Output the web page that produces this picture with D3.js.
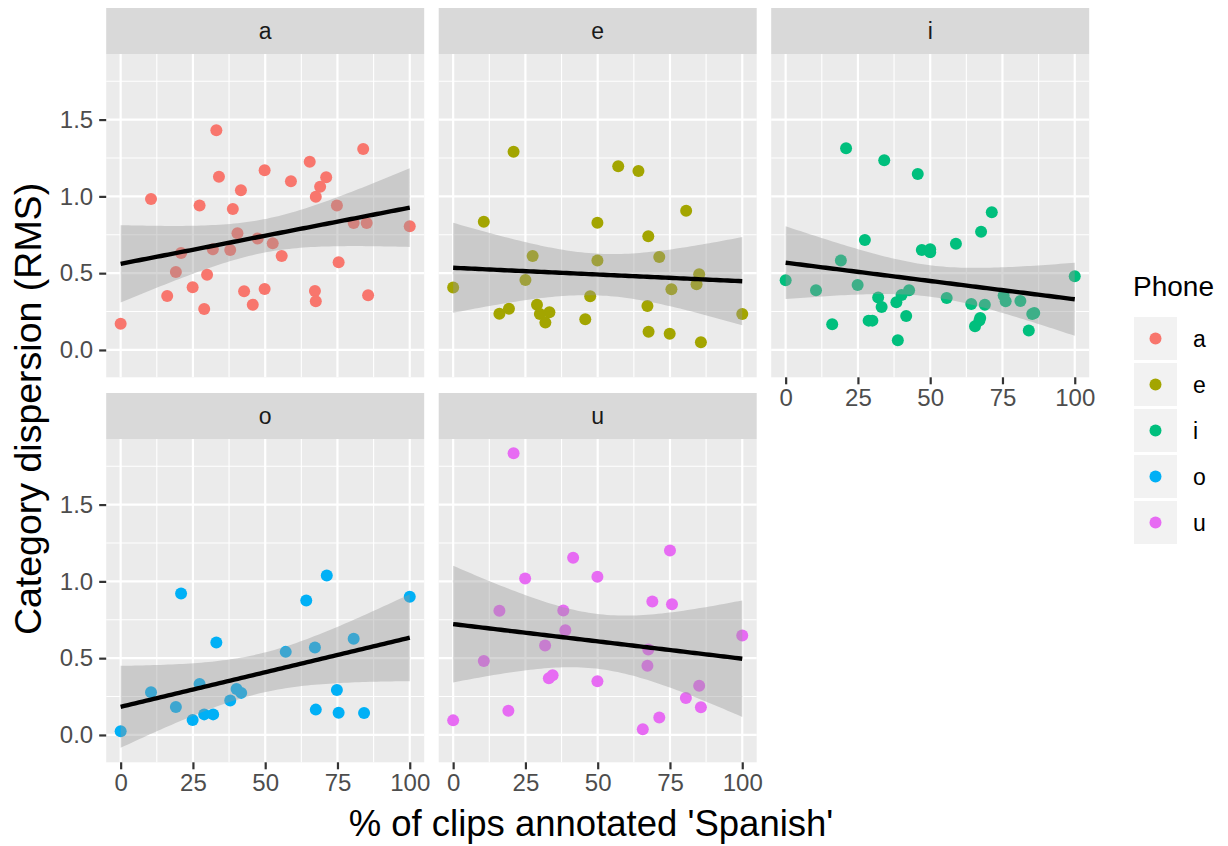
<!DOCTYPE html>
<html>
<head>
<meta charset="utf-8">
<script src="https://cdn.jsdelivr.net/npm/d3@7"></script>
<style>
body { margin: 0; background: #fff; }
text { font-family: "Liberation Sans", Arial, Helvetica, sans-serif; }
</style>
</head>
<body>
<svg id="chart" width="1228" height="846"></svg>
<script>
//Phones (one facet each) and their colours
const phones = ["a", "e", "i", "o", "u"];
const phoneColors = ["#F8766D", "#A3A500", "#00BF7D", "#00B0F6", "#E76BF3"];

//% of clips annotated 'Spanish' and category dispersion, per phone
const pctA = [33.1, 83.9, 65.4, 49.8, 34.0, 71.1, 58.9, 69.0, 41.6, 67.5, 10.5, 27.3, 74.8, 38.8, 80.6, 85.1, 100, 40.4, 47.4, 52.6, 20.9, 31.9, 37.9, 55.7, 75.4, 19.1, 29.9, 24.9, 49.8, 42.7, 67.2, 16.1, 85.6, 67.5, 45.7, 28.9, 0];
const rmsA = [1.430, 1.309, 1.226, 1.170, 1.128, 1.124, 1.098, 1.063, 1.040, 0.998, 0.983, 0.940, 0.940, 0.918, 0.827, 0.827, 0.805, 0.760, 0.725, 0.694, 0.632, 0.655, 0.651, 0.612, 0.571, 0.508, 0.490, 0.408, 0.397, 0.382, 0.384, 0.352, 0.356, 0.317, 0.295, 0.267, 0.171];

const pctE = [20.9, 57.1, 64.1, 80.6, 10.6, 49.9, 67.5, 27.5, 49.9, 71.3, 25.0, 85.1, 84.2, 0, 75.5, 47.4, 29.0, 67.2, 19.3, 16.0, 33.3, 30.0, 100, 31.9, 45.7, 67.6, 74.9, 85.7];
const rmsE = [1.291, 1.196, 1.165, 0.907, 0.835, 0.829, 0.740, 0.612, 0.582, 0.605, 0.456, 0.493, 0.428, 0.406, 0.395, 0.349, 0.295, 0.286, 0.269, 0.236, 0.245, 0.234, 0.234, 0.178, 0.200, 0.119, 0.106, 0.050];

const pctI = [20.9, 34.1, 45.7, 71.3, 67.6, 27.4, 58.9, 47.1, 50.0, 50.0, 19.1, 0, 100, 24.9, 10.5, 42.7, 40.1, 32.0, 55.7, 75.4, 38.3, 76.1, 81.2, 64.2, 68.9, 33.2, 85.3, 86.0, 41.7, 67.3, 67.0, 28.7, 30.0, 16.1, 65.5, 84.1, 38.8];
const rmsI = [1.313, 1.235, 1.146, 0.896, 0.770, 0.716, 0.692, 0.651, 0.655, 0.636, 0.582, 0.454, 0.480, 0.423, 0.389, 0.389, 0.358, 0.341, 0.339, 0.354, 0.310, 0.317, 0.319, 0.299, 0.295, 0.280, 0.234, 0.240, 0.221, 0.208, 0.191, 0.191, 0.191, 0.167, 0.154, 0.126, 0.063];

const pctO = [71.3, 100, 20.9, 64.2, 80.6, 33.1, 67.2, 57.1, 27.3, 10.5, 40.1, 41.7, 74.8, 37.9, 19.1, 67.5, 75.4, 84.2, 28.9, 32.0, 24.9, 0];
const rmsO = [1.038, 0.900, 0.921, 0.876, 0.626, 0.602, 0.569, 0.541, 0.332, 0.278, 0.300, 0.274, 0.293, 0.224, 0.182, 0.165, 0.145, 0.143, 0.134, 0.134, 0.098, 0.024];

const pctU = [20.9, 75.0, 41.5, 24.9, 49.9, 68.9, 75.7, 16.0, 38.1, 38.8, 100, 31.8, 67.5, 10.6, 67.2, 34.4, 33.1, 49.9, 85.1, 80.5, 85.7, 19.1, 71.3, 0, 65.6];
const rmsU = [1.834, 1.201, 1.154, 1.019, 1.030, 0.869, 0.851, 0.808, 0.810, 0.682, 0.647, 0.582, 0.556, 0.482, 0.450, 0.389, 0.369, 0.349, 0.321, 0.241, 0.180, 0.158, 0.113, 0.095, 0.037];

//Tick labels
const xTicks = [0, 25, 50, 75, 100];
const yTicks = [0, 0.5, 1, 1.5];

const seriesX = [pctA, pctE, pctI, pctO, pctU];
const seriesY = [rmsA, rmsE, rmsI, rmsO, rmsU];

//Layout of the facet grid
const panelW = 318, panelH = 323.3, stripH = 46;
const colLeft = 106.2, colStep = 332.5;
const rowTop = 8, rowStep = 385;

const svg = d3.select("#chart");
svg.append("rect").attr("width", 1228).attr("height", 846).attr("fill", "#fff");

//Same scales for every panel (fixed scales)
const x = d3.scaleLinear().domain([-5, 105]).range([0, panelW]);
const y = d3.scaleLinear().domain([-0.178, 1.927]).range([panelH, 0]);

//Student t quantile (0.975) with a Cornish-Fisher style expansion
function tQuantile(df) {
    const z = 1.959964;
    const g1 = (Math.pow(z, 3) + z) / 4;
    const g2 = (5 * Math.pow(z, 5) + 16 * Math.pow(z, 3) + 3 * z) / 96;
    const g3 = (3 * Math.pow(z, 7) + 19 * Math.pow(z, 5) + 17 * Math.pow(z, 3) - 15 * z) / 384;
    return z + g1 / df + g2 / (df * df) + g3 / (df * df * df);
}

//Linear fit with a 95% confidence band, like geom_smooth(method = "lm")
function lmBand(xs, ys) {
    const n = xs.length;
    const mx = d3.mean(xs), my = d3.mean(ys);
    let sxx = 0, sxy = 0;
    for (let i = 0; i < n; i++) {
        sxx += (xs[i] - mx) ** 2;
        sxy += (xs[i] - mx) * (ys[i] - my);
    }
    const b = sxy / sxx, a = my - b * mx;
    let rss = 0;
    for (let i = 0; i < n; i++) rss += (ys[i] - a - b * xs[i]) ** 2;
    const s = Math.sqrt(rss / (n - 2));
    const t = tQuantile(n - 2);
    const lo = d3.min(xs), hi = d3.max(xs);
    return d3.range(80).map(function(k) {
        const xv = lo + (hi - lo) * k / 79;
        const fit = a + b * xv;
        const se = s * Math.sqrt(1 / n + (xv - mx) ** 2 / sxx);
        return { x: xv, fit: fit, lo: fit - t * se, hi: fit + t * se };
    });
}

phones.forEach(function(phone, i) {
    const col = i % 3, row = Math.floor(i / 3);
    const left = colLeft + col * colStep;
    const top = rowTop + row * rowStep;
    const g = svg.append("g").attr("transform", `translate(${left},${top + stripH})`);

    //Strip
    svg.append("rect")
        .attr("x", left).attr("y", top)
        .attr("width", panelW).attr("height", stripH)
        .attr("fill", "#D9D9D9");
    svg.append("text")
        .attr("x", left + panelW / 2).attr("y", top + stripH / 2)
        .attr("text-anchor", "middle").attr("dominant-baseline", "central")
        .attr("font-size", 23).attr("fill", "#1A1A1A")
        .text(phone);

    //Panel background and grid
    g.append("rect").attr("width", panelW).attr("height", panelH).attr("fill", "#EBEBEB");
    const xMinor = [12.5, 37.5, 62.5, 87.5];
    const yMinor = [0.25, 0.75, 1.25, 1.75];
    g.selectAll(".xminor").data(xMinor).enter().append("line")
        .attr("x1", d => x(d)).attr("x2", d => x(d))
        .attr("y1", 0).attr("y2", panelH)
        .attr("stroke", "#fff").attr("stroke-width", 1.1);
    g.selectAll(".yminor").data(yMinor).enter().append("line")
        .attr("y1", d => y(d)).attr("y2", d => y(d))
        .attr("x1", 0).attr("x2", panelW)
        .attr("stroke", "#fff").attr("stroke-width", 1.1);
    g.selectAll(".xmajor").data(xTicks).enter().append("line")
        .attr("x1", d => x(d)).attr("x2", d => x(d))
        .attr("y1", 0).attr("y2", panelH)
        .attr("stroke", "#fff").attr("stroke-width", 2.2);
    g.selectAll(".ymajor").data(yTicks).enter().append("line")
        .attr("y1", d => y(d)).attr("y2", d => y(d))
        .attr("x1", 0).attr("x2", panelW)
        .attr("stroke", "#fff").attr("stroke-width", 2.2);

    //Points
    const pts = seriesX[i].map((v, k) => ({ x: v, y: seriesY[i][k] }));
    g.selectAll(".pt").data(pts).enter().append("circle")
        .attr("cx", d => x(d.x)).attr("cy", d => y(d.y))
        .attr("r", 6).attr("fill", phoneColors[i]);

    //Smooth with ribbon
    const band = lmBand(seriesX[i], seriesY[i]);
    g.append("path").datum(band)
        .attr("d", d3.area().x(d => x(d.x)).y0(d => y(d.lo)).y1(d => y(d.hi)))
        .attr("fill", "#999999").attr("fill-opacity", 0.4);
    g.append("path").datum(band)
        .attr("d", d3.line().x(d => x(d.x)).y(d => y(d.fit)))
        .attr("fill", "none").attr("stroke", "#000").attr("stroke-width", 4.4);

    //Y axis on the first column
    if (col === 0) {
        const ya = g.append("g").call(d3.axisLeft(y).tickValues(yTicks).tickFormat(d3.format(".1f")).tickSize(7).tickPadding(6));
        ya.select(".domain").remove();
        ya.selectAll("line").attr("stroke", "#333333").attr("stroke-width", 2.2);
        ya.selectAll("text").attr("font-size", 24).attr("fill", "#4D4D4D")
            .attr("font-family", "Liberation Sans, Arial, sans-serif");
    }
    //X axis where no panel sits below
    if (row === 1 || col === 2) {
        const xa = g.append("g").attr("transform", `translate(0,${panelH})`)
            .call(d3.axisBottom(x).tickValues(xTicks).tickSize(7).tickPadding(5));
        xa.select(".domain").remove();
        xa.selectAll("line").attr("stroke", "#333333").attr("stroke-width", 2.2);
        xa.selectAll("text").attr("font-size", 24).attr("fill", "#4D4D4D")
            .attr("font-family", "Liberation Sans, Arial, sans-serif");
    }
});

//Axis titles
svg.append("text")
    .attr("x", 591).attr("y", 836)
    .attr("text-anchor", "middle").attr("font-size", 36.5).attr("fill", "#000")
    .text("% of clips annotated 'Spanish'");
svg.append("text")
    .attr("transform", "translate(41,409) rotate(-90)")
    .attr("text-anchor", "middle").attr("font-size", 37.5).attr("fill", "#000")
    .text("Category dispersion (RMS)");

//Legend
const legend = svg.append("g").attr("transform", "translate(1133,0)");
legend.append("text").attr("x", 0).attr("y", 296)
    .attr("font-size", 28).attr("fill", "#000").text("Phone");
phones.forEach(function(phone, i) {
    const ky = 317 + i * 46;
    legend.append("rect").attr("x", 1).attr("y", ky)
        .attr("width", 43).attr("height", 43).attr("fill", "#F2F2F2");
    legend.append("circle").attr("cx", 22.5).attr("cy", ky + 21.5)
        .attr("r", 6).attr("fill", phoneColors[i]);
    legend.append("text").attr("x", 60).attr("y", ky + 21.5)
        .attr("dominant-baseline", "central")
        .attr("font-size", 23).attr("fill", "#000").text(phone);
});
</script>
</body>
</html>
